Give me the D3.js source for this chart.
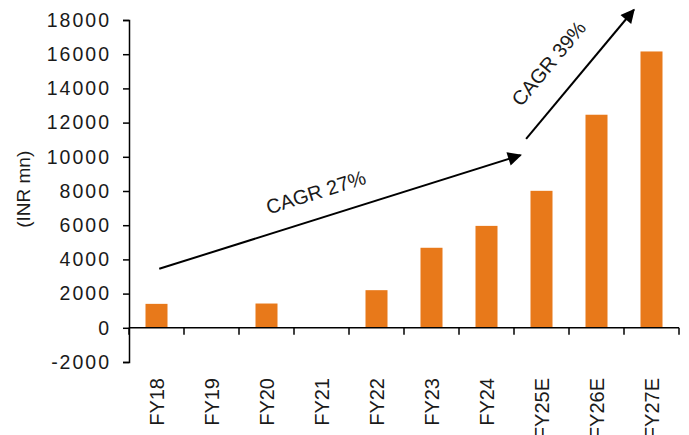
<!DOCTYPE html>
<html>
<head>
<meta charset="utf-8">
<script src="https://cdn.jsdelivr.net/npm/d3@7"></script>
<style>
  body { margin: 0; background: #fff; }
  text { font-family: "Liberation Sans", Arial, sans-serif; fill: #1a1a1a; }
</style>
</head>
<body>
<div id="chart"></div>
<script>
var w = 689,
	h = 435;

var categories = ["FY18","FY19","FY20","FY21","FY22","FY23","FY24","FY25E","FY26E","FY27E"];
var revenue = [1400, 0, 1420, 20, 2200, 4680, 5960, 8010, 12460, 16160];
var yTicks = [-2000, 0, 2000, 4000, 6000, 8000, 10000, 12000, 14000, 16000, 18000];

// growth arrows: band index (fractional) and value at each end
var arrows = [
	{ label: "CAGR 27%", from: [0.05, 3450], to: [6.62, 10100], at: 0.455, gap: 19 },
	{ label: "CAGR 39%", from: [6.72, 11050], to: [8.68, 18600], at: 0.43, gap: 24 }
];

var plotLeft = 129, plotRight = 679, plotTop = 20, plotBottom = 362;

var svg = d3.select("#chart")
	.append("svg")
	.attr("width", w)
	.attr("height", h);

var x = d3.scaleBand()
	.domain(categories)
	.range([plotLeft, plotRight])
	.paddingInner(0.6)
	.paddingOuter(0.3);

var y = d3.scaleLinear()
	.domain([-2000, 18000])
	.range([plotBottom, plotTop]);

// position along the band axis for a fractional index
function xi(i) { return plotLeft + (i + 0.5) * x.step(); }

// bars
svg.selectAll("rect.bar")
	.data(revenue)
	.enter()
	.append("rect")
	.attr("class", "bar")
	.attr("x", function(d, i){ return x(categories[i]); })
	.attr("width", x.bandwidth())
	.attr("y", function(d){ return y(Math.max(d, 0)); })
	.attr("height", function(d){ return Math.abs(y(d) - y(0)); })
	.style("fill", "#E8791A");

// y axis
var yAxis = svg.append("g")
	.attr("transform", "translate(" + plotLeft + ",0)")
	.call(d3.axisLeft(y).tickValues(yTicks).tickSize(6).tickPadding(12)
		.tickFormat(function(d){ return String(d); }));
yAxis.select(".domain").attr("stroke", "#000").attr("stroke-width", 1.5);
yAxis.selectAll(".tick line").attr("stroke", "#000").attr("stroke-width", 1.5);
yAxis.selectAll(".tick text")
	.style("font-size", "19.5px")
	.style("letter-spacing", "2px")
	.style("font-family", "'Liberation Sans', Arial, sans-serif")
	.attr("fill", "#1a1a1a");

// x axis at zero with ticks on band boundaries
var xAxis = svg.append("g");
xAxis.append("line")
	.attr("x1", plotLeft).attr("x2", plotRight)
	.attr("y1", y(0)).attr("y2", y(0))
	.attr("stroke", "#000").attr("stroke-width", 1.5);
xAxis.selectAll("line.tick")
	.data(d3.range(categories.length + 1))
	.enter()
	.append("line")
	.attr("class", "tick")
	.attr("x1", function(i){ return plotLeft + i * x.step(); })
	.attr("x2", function(i){ return plotLeft + i * x.step(); })
	.attr("y1", y(0)).attr("y2", y(0) + 7)
	.attr("stroke", "#000").attr("stroke-width", 1.5);

svg.selectAll("text.xlab")
	.data(categories)
	.enter()
	.append("text")
	.attr("class", "xlab")
	.attr("transform", function(d){
		return "translate(" + (x(d) + x.bandwidth() / 2 + 7) + "," + (plotBottom + 16) + ") rotate(-90)";
	})
	.attr("text-anchor", "end")
	.style("font-size", "20px")
	.text(function(d){ return d; });

// y axis title
svg.append("text")
	.attr("transform", "translate(30," + y(8100) + ") rotate(-90)")
	.attr("text-anchor", "middle")
	.style("font-size", "19px")
	.text("(INR mn)");

// arrows
svg.append("defs").append("marker")
	.attr("id", "head")
	.attr("viewBox", "0 0 10 10")
	.attr("refX", 9).attr("refY", 5)
	.attr("markerWidth", 8).attr("markerHeight", 7)
	.attr("markerUnits", "strokeWidth")
	.attr("orient", "auto")
	.append("path")
	.attr("d", "M0,0L10,5L0,10Z")
	.attr("fill", "#000");

arrows.forEach(function(a){
	var x1 = xi(a.from[0]), y1 = y(a.from[1]),
		x2 = xi(a.to[0]), y2 = y(a.to[1]);
	svg.append("line")
		.attr("x1", x1).attr("y1", y1)
		.attr("x2", x2).attr("y2", y2)
		.attr("stroke", "#000").attr("stroke-width", 2)
		.attr("marker-end", "url(#head)");
	var ang = Math.atan2(y2 - y1, x2 - x1) * 180 / Math.PI;
	var mx = x1 + (x2 - x1) * a.at, my = y1 + (y2 - y1) * a.at;
	var rad = (ang - 90) * Math.PI / 180;
	svg.append("text")
		.attr("transform", "translate(" + (mx + a.gap * Math.cos(rad)) + "," + (my + a.gap * Math.sin(rad)) + ") rotate(" + ang + ")")
		.attr("text-anchor", "middle")
		.style("font-size", "20px")
		.text(a.label);
});
</script>
</body>
</html>
